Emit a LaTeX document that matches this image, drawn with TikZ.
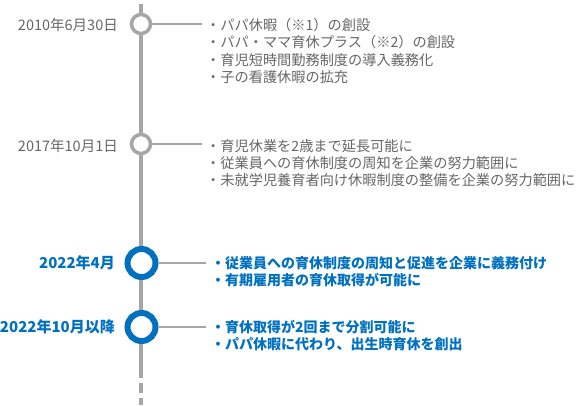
\documentclass[tikz,border=0pt]{standalone}
\usepackage{fontspec}
\setmainfont{Noto Sans CJK JP}
\usepackage{tikz}
\usetikzlibrary{positioning, calc}
\definecolor{linegray}{HTML}{A6A6A6}
\definecolor{textgray}{HTML}{666666}
\definecolor{hlblue}{HTML}{0070C0}
\tikzset{
	datetext/.style={font=\fontsize{14.5}{17.5}\selectfont\color{textgray}, inner sep=0, anchor=base east}
}
\tikzset{
	itemtext/.style={font=\fontsize{14.2}{17.4}\selectfont\color{textgray}, inner sep=0, anchor=north west, align=left}
}
\tikzset{
	hldatetext/.style={datetext, font=\fontsize{15}{17.5}\selectfont\bfseries\color{hlblue}},
	hlitemtext/.style={itemtext, font=\fontsize{14}{16.5}\selectfont\bfseries\color{hlblue}}
}
\tikzset{
	milestone/.style={circle, draw=linegray, line width=3.5pt, fill=white, minimum size=19pt, inner sep=0},
	hlmilestone/.style={circle, draw=hlblue, line width=6pt, fill=white, minimum size=28pt, inner sep=0},
	leader/.style={draw=linegray, line width=2pt}
}

\begin{document}
\begin{tikzpicture}[x=1pt, y=-1pt]
      \useasboundingbox (0,0) rectangle (582,405);
      % time axis
      \coordinate (top) at (140.5,4);
      \coordinate (solidend) at (140.5,378);
      \coordinate (dashstart) at (140.5,383);
      \coordinate (bottom) at (140.5,405);
      \draw[draw=linegray, line width=4pt] (top) -- (solidend);
      \draw[draw=linegray, line width=4pt, dash pattern=on 10pt off 5pt] (dashstart) -- (bottom);

      \node[milestone] (m1) at (141,24) {};
      \node[milestone] (m2) at (141,144) {};
      \node[hlmilestone] (m3) at (141.5,263) {};
      \node[hlmilestone] (m4) at (141.5,327) {};

      \node[datetext] (d1) at (118,30.5) {2010年6月30日};
      \node[datetext] (d2) at (118,151.5) {2017年10月1日};
      \node[hldatetext] (d3) at (115,268.5) {2022年4月};
      \node[hldatetext] (d4) at (115,332.5) {2022年10月以降};

      \node[itemtext] (t1) at (206,18) {・パパ休暇（※1）の創設\\・パパ・ママ育休プラス（※2）の創設\\・育児短時間勤務制度の導入義務化\\・子の看護休暇の拡充};
      \node[itemtext] (t2) at (206,139) {・育児休業を2歳まで延長可能に\\・従業員への育休制度の周知を企業の努力範囲に\\・未就学児養育者向け休暇制度の整備を企業の努力範囲に};
      \node[hlitemtext] (t3) at (211,256.5) {・従業員への育休制度の周知と促進を企業に義務付け\\・有期雇用者の育休取得が可能に};
      \node[hlitemtext] (t4) at (211,320.5) {・育休取得が2回まで分割可能に\\・パパ休暇に代わり、出生時育休を創出};

      \coordinate (l1) at (202,24);
      \coordinate (l2) at (202,144);
      \coordinate (l3) at (206,262);
      \coordinate (l4) at (206,327);
      \draw[leader] (m1.east) -- (l1);
      \draw[leader] (m2.east) -- (l2);
      \draw[leader] (m3.east) -- (m3.east -| l3);
      \draw[leader] (m4.east) -- (l4);
    \end{tikzpicture}
\end{document}
